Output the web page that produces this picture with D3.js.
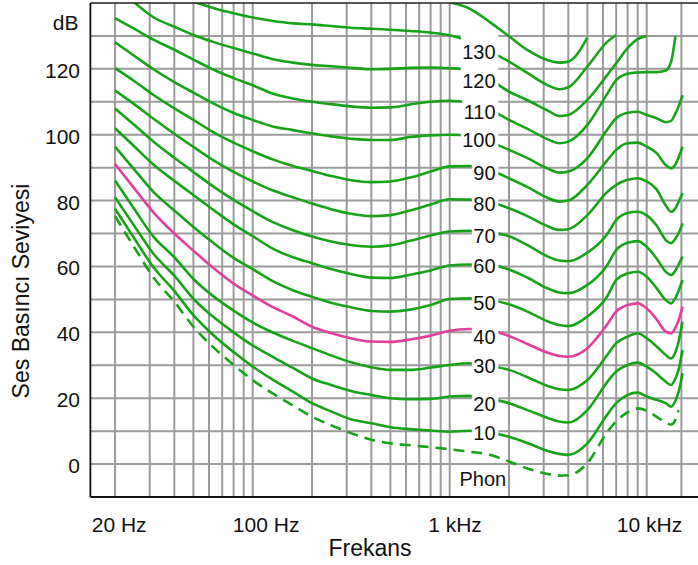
<!DOCTYPE html>
<html>
<head>
<meta charset="utf-8">
<title>Eşit ses yüksekliği eğrileri</title>
<style>
  body { margin: 0; background: #fff; }
  text { font-family: "Liberation Sans", Arial, sans-serif; fill: #111; }
</style>
</head>
<body>
<script src="https://d3js.org/d3.v7.min.js"></script>
<script>
var freqs = [20, 25, 31.5, 40, 50, 63, 80, 100, 125, 160,
             200, 250, 315, 400, 500, 630, 800, 1000, 1250, 1600,
             2000, 2500, 3150, 3600, 4000, 5000, 6300, 7000, 8000, 9000,
             10000, 11200, 12500, 13300, 14000, 14500, 15200];

// sound pressure level (dB) of each equal loudness curve, null = not drawn
var phon140 = [null, null, null, null, null, null, null, null, null, null,
               null, null, null, null, null, null, null, 140.2, 138.4, 134.2,
               129.9, 125.6, 122.6, 121.9, 122.2, 129.5, null, null, null, null,
               null, null, null, null, null, null, null];
var phon130 = [null, null, null, null, 140.4, 138.5, 136.9, 135.6, 134.6, 133.8,
               133.5, 133.0, 132.5, 132.2, 131.9, 131.5, 131.0, 130.2, 128.4, 125.3,
               122.2, 118.6, 115.0, 113.8, 114.4, 120.7, 128.2, 130.3, null, null,
               null, null, null, null, null, null, null];
var phon120 = [null, 140.2, 135.6, 132.8, 130.3, 128.2, 126.3, 124.7, 123.0, 121.9,
               121.2, 120.8, 120.3, 119.9, 120.0, 120.3, 120.4, 120.2, 119.6, 116.8,
               113.1, 110.4, 107.3, 105.7, 106.0, 110.6, 118.1, 121.7, 126.3, 129.0,
               130.0, null, null, null, null, null, null];
var phon110 = [135.4, 132.2, 128.8, 125.8, 122.8, 119.8, 117.2, 115.0, 112.6, 111.0,
               110.0, 109.3, 108.6, 108.2, 108.3, 109.2, 110.0, 110.3, 109.7, 107.6,
               104.5, 101.7, 98.6, 97.4, 97.9, 103.0, 112.4, 116.6, 118.5, 118.9,
               119.0, 119.0, 119.5, 122.2, 130.0, null, null];
var phon100 = [128.1, 124.0, 119.8, 116.0, 112.8, 109.5, 106.6, 104.5, 102.6, 101.4,
               100.4, 99.5, 98.8, 98.4, 98.4, 99.3, 99.8, 100.0, 99.6, 97.8,
               95.4, 92.8, 89.7, 88.5, 88.8, 92.9, 101.5, 105.0, 106.7, 107.0,
               106.0, 105.0, 103.8, 104.2, 106.5, 108.5, 112.0];
var phon90 = [120.2, 116.3, 112.0, 108.0, 104.5, 100.8, 97.6, 95.0, 92.6, 90.5,
              89.0, 87.5, 86.2, 85.6, 85.8, 87.0, 88.8, 90.4, 90.5, 89.2,
              86.8, 84.0, 80.8, 79.7, 80.0, 84.8, 92.2, 95.4, 97.4, 97.6,
              96.4, 94.5, 90.8, 89.8, 91.0, 93.0, 96.4];
var phon80 = [113.4, 109.3, 104.8, 100.3, 96.3, 92.3, 88.7, 85.8, 83.2, 81.0,
              79.1, 77.4, 76.0, 75.3, 75.6, 77.0, 78.8, 80.4, 80.3, 79.5,
              77.7, 75.2, 72.2, 71.1, 71.3, 75.6, 82.6, 84.8, 86.3, 86.8,
              85.8, 83.5, 78.5, 76.6, 77.7, 79.5, 82.3];
var phon70 = [108.0, 103.0, 97.8, 93.0, 88.7, 84.3, 80.2, 76.8, 73.6, 71.0,
              69.1, 67.6, 66.5, 66.0, 66.4, 67.8, 69.4, 70.6, 70.8, 70.3,
              69.2, 66.4, 63.0, 61.8, 61.6, 64.2, 69.8, 74.1, 76.2, 76.6,
              75.5, 72.5, 68.0, 67.1, 68.5, 70.0, 73.1];
var phon60 = [102.0, 96.5, 90.8, 86.0, 81.7, 77.2, 72.8, 69.2, 65.6, 62.8,
              61.0, 59.2, 57.7, 56.6, 56.5, 57.5, 58.8, 60.3, 60.6, 60.4,
              59.1, 56.5, 53.3, 52.1, 51.9, 54.4, 60.4, 65.0, 67.2, 67.7,
              66.0, 62.5, 58.4, 57.4, 58.8, 60.5, 63.0];
var phon50 = [96.4, 89.5, 82.5, 77.0, 72.0, 67.2, 62.6, 59.2, 55.7, 52.8,
              50.8, 49.0, 47.6, 46.5, 46.3, 46.9, 48.3, 50.1, 50.3, 49.8,
              48.5, 46.2, 43.3, 42.2, 41.9, 44.8, 50.9, 55.9, 57.9, 58.4,
              56.9, 53.5, 49.8, 48.8, 50.5, 52.5, 55.9];
var phon40 = [91.1, 83.8, 76.3, 70.0, 64.8, 59.6, 54.8, 51.2, 47.8, 44.8,
              41.7, 39.8, 38.2, 37.2, 37.1, 37.8, 39.0, 40.5, 41.0, 40.6,
              38.9, 36.4, 33.8, 32.8, 32.6, 35.2, 42.4, 46.3, 48.3, 48.8,
              47.3, 44.0, 40.2, 39.7, 41.5, 43.5, 47.8];
var phon30 = [86.1, 77.5, 68.9, 62.8, 56.2, 51.0, 46.6, 43.0, 40.1, 37.4,
              35.2, 33.0, 30.9, 29.4, 28.6, 28.6, 29.3, 30.1, 30.6, 29.8,
              28.6, 26.3, 23.7, 22.7, 22.5, 25.5, 33.1, 36.7, 38.7, 39.7,
              38.2, 35.8, 33.1, 32.1, 34.0, 37.0, 43.2];
var phon20 = [81.0, 72.4, 63.7, 57.2, 50.2, 44.7, 40.0, 36.0, 32.7, 29.2,
              26.0, 24.0, 22.2, 21.0, 20.0, 19.7, 19.8, 20.5, 20.7, 19.8,
              18.5, 16.3, 14.0, 12.9, 12.6, 16.4, 24.9, 28.1, 30.1, 30.8,
              29.6, 27.5, 25.0, 24.0, 26.0, 28.5, 34.6];
var phon10 = [77.5, 68.6, 59.6, 52.6, 45.2, 39.2, 34.0, 29.6, 25.8, 22.0,
              18.5, 16.0, 13.6, 12.4, 11.2, 10.6, 10.2, 9.8, 10.1, 9.6,
              8.3, 6.3, 4.0, 3.1, 2.8, 6.3, 15.0, 18.5, 21.0, 21.7,
              20.5, 19.5, 18.5, 17.4, 19.3, 21.8, 27.6];
// hearing threshold (dashed)
var threshold = [75.3, 65.9, 56.5, 49.3, 41.7, 35.5, 30.1, 25.5, 21.6, 17.8,
                 14.4, 11.8, 9.4, 7.4, 6.3, 5.7, 5.1, 4.5, 3.8, 2.8,
                 0.8, -1.4, -3.0, -3.5, -3.4, 0.3, 9.7, 13.0, 15.7, 16.9,
                 16.2, 14.4, 12.6, 12.0, 13.5, 16.4, null];

// curve labels and the level (dB) of their baseline
var curveLabels = ["130", "120", "110", "100", "90", "80", "70", "60", "50", "40", "30", "20", "10"];
var labelDb = [122.9, 114.1, 104.8, 96.4, 86.3, 76.7, 67.1, 58.0, 46.8, 36.4, 27.6, 16.2, 7.3];

var yTicks = [0, 20, 40, 60, 80, 100, 120];
var xTickText = ["20 Hz", "100 Hz", "1 kHz", "10 kHz"];
var xTickAt = [21, 117, 1064, 10330];
var gridFreqs = [20, 30, 40, 50, 60, 70, 80, 90, 100, 200, 300, 400, 500, 600, 700, 800, 900,
                 1000, 2000, 3000, 4000, 5000, 6000, 7000, 8000, 9000, 10000, 15000];
var gridDb = [0, 10, 20, 30, 40, 50, 60, 70, 80, 90, 100, 110, 120, 130];

var width = 698, height = 565;
var green = "#17a317", pink = "#e0409b";

var x = d3.scaleLog().domain([15, 20000]).range([90.4, 706]);
var y = d3.scaleLinear().domain([-10, 140]).range([497, 3]);

var svg = d3.select("body").append("svg")
    .attr("width", width)
    .attr("height", height);

svg.append("defs").append("clipPath").attr("id", "plot")
  .append("rect")
    .attr("x", x(15)).attr("y", y(140))
    .attr("width", width - x(15)).attr("height", y(-10) - y(140));

// grid
var grid = svg.append("g").attr("stroke", "#9b9b9b").attr("stroke-width", 2);
grid.selectAll(".v").data(gridFreqs).enter().append("line")
    .attr("x1", function(d) { return x(d); })
    .attr("x2", function(d) { return x(d); })
    .attr("y1", y(140)).attr("y2", y(-10));
grid.selectAll(".h").data(gridDb).enter().append("line")
    .attr("x1", x(15)).attr("x2", width)
    .attr("y1", function(d) { return y(d); })
    .attr("y2", function(d) { return y(d); });

// curves
var series = [
  { v: phon140, c: green }, { v: phon130, c: green }, { v: phon120, c: green },
  { v: phon110, c: green }, { v: phon100, c: green }, { v: phon90, c: green },
  { v: phon80, c: green }, { v: phon70, c: green }, { v: phon60, c: green },
  { v: phon50, c: green }, { v: phon40, c: pink }, { v: phon30, c: green },
  { v: phon20, c: green }, { v: phon10, c: green },
  { v: threshold, c: green, dash: "11,7" }
];

var line = d3.line()
    .defined(function(d) { return d[1] != null; })
    .x(function(d) { return x(d[0]); })
    .y(function(d) { return y(d[1]); })
    .curve(d3.curveMonotoneX);

svg.append("g").attr("clip-path", "url(#plot)")
  .selectAll("path").data(series).enter().append("path")
    .attr("d", function(s) { return line(freqs.map(function(f, i) { return [f, s.v[i]]; })); })
    .attr("fill", "none")
    .attr("stroke", function(s) { return s.c; })
    .attr("stroke-width", 2.6)
    .attr("stroke-linejoin", "round")
    .attr("stroke-dasharray", function(s) { return s.dash || null; });

// labels on the curves, on a white box
var lab = svg.append("g").selectAll("g").data(curveLabels).enter().append("g");
lab.each(function(d, i) {
  var g = d3.select(this);
  var rect = g.append("rect").attr("fill", "#fff");
  var t = g.append("text")
      .attr("x", x(1710))
      .attr("y", y(labelDb[i]))
      .attr("text-anchor", "end")
      .style("font-size", "20px")
      .text(d);
  var b = t.node().getBBox();
  rect.attr("x", b.x - 1.5)
      .attr("y", y(labelDb[i]) - 25)
      .attr("width", x(1765) - b.x + 1.5)
      .attr("height", 31);
});

svg.append("text")
    .attr("x", x(1121))
    .attr("y", y(-6.8))
    .style("font-size", "20px")
    .text("Phon");

// frame
svg.append("line").attr("x1", x(15)).attr("x2", width).attr("y1", y(140)).attr("y2", y(140))
    .attr("stroke", "#222").attr("stroke-width", 1.5);
svg.append("line").attr("x1", x(15)).attr("x2", width).attr("y1", y(-10)).attr("y2", y(-10))
    .attr("stroke", "#111").attr("stroke-width", 1.8);
svg.append("line").attr("x1", x(15)).attr("x2", x(15)).attr("y1", y(140)).attr("y2", y(-10))
    .attr("stroke", "#111").attr("stroke-width", 1.8);

// axis texts
svg.append("g").selectAll("text").data(yTicks).enter().append("text")
    .attr("x", 80)
    .attr("y", function(d) { return y(d) + 9; })
    .attr("text-anchor", "end")
    .style("font-size", "21px")
    .text(function(d) { return d; });

svg.append("text")
    .attr("x", 78.5).attr("y", 30)
    .attr("text-anchor", "end")
    .style("font-size", "21px")
    .text("dB");

svg.append("g").selectAll("text").data(xTickText).enter().append("text")
    .attr("x", function(d, i) { return x(xTickAt[i]); })
    .attr("y", 531.5)
    .attr("text-anchor", "middle")
    .style("font-size", "21px")
    .text(function(d) { return d; });

svg.append("text")
    .attr("x", 370).attr("y", 556)
    .attr("text-anchor", "middle")
    .style("font-size", "23px")
    .text("Frekans");

svg.append("text")
    .attr("transform", "translate(29,291) rotate(-90)")
    .attr("text-anchor", "middle")
    .style("font-size", "23px")
    .text("Ses Basıncı Seviyesi");
</script>
</body>
</html>
